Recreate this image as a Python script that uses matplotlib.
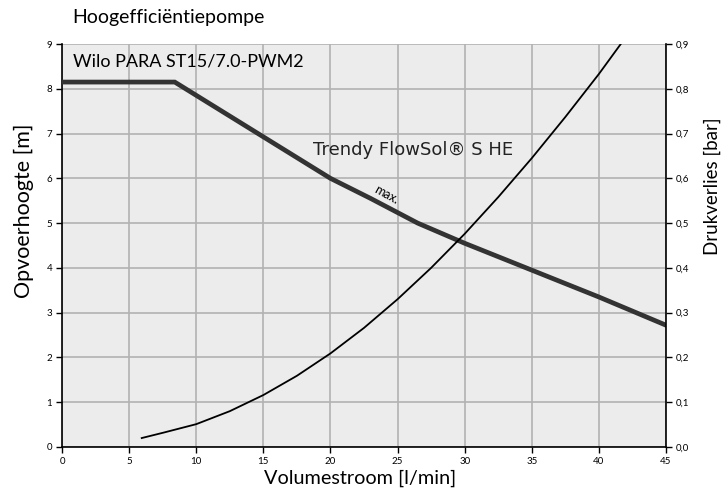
import matplotlib
matplotlib.use("Agg")
import matplotlib.pyplot as plt
from matplotlib.ticker import FuncFormatter

plt.rcParams['font.family'] = ['Lato', 'DejaVu Sans']

# Pump curve (Wilo PARA ST15/7.0-PWM2, max.)
pump_flow = [0, 8.4, 20, 23, 26.5, 30, 35, 40, 45]
pump_head = [8.15, 8.15, 6.0, 5.55, 5.0, 4.55, 3.95, 3.35, 2.72]

# Pressure loss of Trendy FlowSol S HE [bar]
loss_flow = [5.94, 7.55, 10, 12.5, 15, 17.5, 20, 22.5, 25, 27.5, 30, 32.5, 35, 37.5, 40, 41.63]
loss_bar = [0.020, 0.032, 0.051, 0.080, 0.116, 0.159, 0.209, 0.266, 0.330, 0.400,
            0.476, 0.558, 0.645, 0.737, 0.833, 0.900]

x_ticks = [0, 5, 10, 15, 20, 25, 30, 35, 40, 45]
y_ticks = [0, 1, 2, 3, 4, 5, 6, 7, 8, 9]
y2_ticks = [0.0, 0.1, 0.2, 0.3, 0.4, 0.5, 0.6, 0.7, 0.8, 0.9]

W, H = 723, 491
fig = plt.figure(figsize=(W / 100, H / 100), dpi=100)
ax = fig.add_axes([62 / W, 1 - 447 / H, (666 - 62) / W, (447 - 44) / H])
ax.set_facecolor('#ececec')
ax.set_xlim(0, 45)
ax.set_ylim(0, 9)
ax.set_xticks(x_ticks)
ax.set_yticks(y_ticks)
ax.grid(True, color='#b2b2b2', lw=1.2)
ax.set_axisbelow(True)
ax.tick_params(direction='out', length=4, width=1, labelsize=7, pad=3)
for s in ['left', 'bottom']:
    ax.spines[s].set_color('black')
    ax.spines[s].set_linewidth(1.2)
ax.spines['top'].set_visible(False)
ax.spines['right'].set_visible(False)

ax.plot(pump_flow, pump_head, color='#333333', lw=3.4, solid_joinstyle='miter', zorder=3)

ax2 = ax.twinx()
ax2.set_ylim(0, 0.9)
ax2.set_yticks(y2_ticks)
ax2.yaxis.set_major_formatter(FuncFormatter(lambda v, p: f"{v:.1f}".replace('.', ',')))
ax2.tick_params(direction='out', length=4, width=1, labelsize=7, pad=3)
for s in ['left', 'bottom', 'top']:
    ax2.spines[s].set_visible(False)
ax2.spines['right'].set_color('black')
ax2.spines['right'].set_linewidth(1.2)
ax2.plot(loss_flow, loss_bar, color='black', lw=1.3, zorder=3, solid_joinstyle='round')

ax.text(0.85, 8.6, 'Wilo PARA ST15/7.0-PWM2', fontsize=13, va='center', ha='left')
ax.text(18.7, 6.63, 'Trendy FlowSol® S HE', fontsize=13, va='center', ha='left',
        color='#222222', family=['DejaVu Sans'])
ax.text(24.2, 5.63, 'max.', fontsize=9, va='center', ha='center', rotation=-29)

fig.text(72 / W, 1 - 18 / H, 'Hoogefficiëntiepompe', fontsize=14, va='center', ha='left')
fig.text(24 / W, 1 - 211 / H, 'Opvoerhoogte [m]', fontsize=15.5, va='center', ha='center', rotation=90)
fig.text(360 / W, 1 - 478 / H, 'Volumestroom [l/min]', fontsize=14.3, va='center', ha='center')
fig.text(712 / W, 1 - 186 / H, 'Drukverlies [bar]', fontsize=13.5, va='center', ha='center', rotation=90)

fig.savefig('out.png', dpi=100)
